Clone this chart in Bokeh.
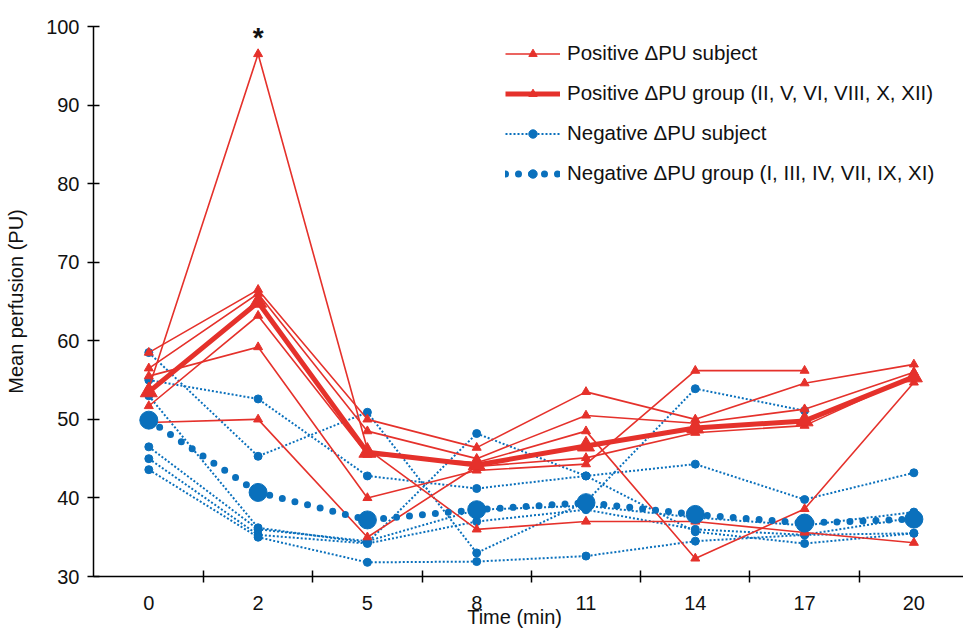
from bokeh.plotting import figure
from bokeh.models import Range1d, FixedTicker, Legend, LegendItem, Label
from bokeh.embed import file_html
from bokeh.resources import INLINE

nan = float("nan")

# Time points (min) shown as evenly spaced categories
times = ["0", "2", "5", "8", "11", "14", "17", "20"]

# Positive ΔPU subjects (Mean perfusion, PU)
pos_s1 = [58.5, 66.5, 50.0, 46.4, 53.5, 50.0, 54.6, 57.0]
pos_s2 = [56.5, 66.0, 48.5, 45.0, 50.5, 49.5, 51.3, 56.0]
pos_s3 = [55.5, 59.2, 40.0, 43.5, 44.3, 56.2, 56.2, nan]
pos_s4 = [54.0, 96.5, 46.2, 36.0, 37.0, 37.0, 35.6, 34.3]
pos_s5 = [51.7, 63.2, 45.5, 44.5, 48.5, 32.3, 38.6, 54.7]
pos_s6 = [49.6, 50.0, 35.0, 44.0, 45.1, 48.3, 49.2, 55.5]
pos_group = [53.5, 64.9, 45.8, 44.2, 46.6, 48.9, 49.8, 55.4]

# Negative ΔPU subjects
neg_s1 = [58.5, 45.3, 50.9, 33.0, 39.5, 53.9, 51.1, nan]
neg_s2 = [55.0, 52.6, 42.8, 41.2, 42.8, 44.3, 39.8, 43.2]
neg_s3 = [53.0, 36.2, 34.3, 48.2, 42.8, 35.7, 34.2, 35.5]
neg_s4 = [46.5, 36.0, 34.5, 38.5, 39.0, 37.5, 36.5, 38.2]
neg_s5 = [45.0, 35.3, 34.2, 37.0, 38.5, 36.0, 35.3, 37.5]
neg_s6 = [43.6, 35.0, 31.8, 31.9, 32.6, 34.5, 35.3, 35.5]
neg_group = [49.9, 40.7, 37.2, 38.5, 39.4, 37.9, 36.8, 37.3]

pos_subjects = [pos_s1, pos_s2, pos_s3, pos_s4, pos_s5, pos_s6]
neg_subjects = [neg_s1, neg_s2, neg_s3, neg_s4, neg_s5, neg_s6]

label_pos_s = "Positive \u0394PU subject"
label_pos_g = "Positive \u0394PU group (II, V, VI, VIII, X, XII)"
label_neg_s = "Negative \u0394PU subject"
label_neg_g = "Negative \u0394PU group (I, III, IV, VII, IX, XI)"
x_title = "Time (min)"
y_title = "Mean perfusion (PU)"

RED = "#E5312B"
BLUE = "#0A70BC"
FONT = "Liberation Sans"
TXT = "#111111"

x = list(range(len(times)))

p = figure(width=963, height=630, output_backend="svg", toolbar_location=None,
           x_range=Range1d(-0.506, 7.454), y_range=Range1d(30, 100),
           min_border_left=93, min_border_right=0, min_border_top=26,
           min_border_bottom=53)
p.outline_line_color = None
p.grid.visible = False
p.background_fill_color = "white"

# negative subjects
neg_r = []
for s in neg_subjects:
    l = p.line(x, s, color=BLUE, line_width=2, line_dash="2 2")
    c = p.scatter(x, s, marker="circle", size=8, color=BLUE)
    neg_r.append((l, c))

# positive subjects
pos_r = []
for s in pos_subjects:
    l = p.line(x, s, color=RED, line_width=1.6)
    c = p.scatter(x, s, marker="triangle", size=9, color=RED)
    pos_r.append((l, c))

# negative group
ng_l = p.line(x, neg_group, color=BLUE, line_width=7, line_dash="0 13", line_cap="round")
ng_c = p.scatter(x, neg_group, marker="circle", size=18, color=BLUE)

# positive group
pg_l = p.line(x, pos_group, color=RED, line_width=5)
pg_c = p.scatter(x, pos_group, marker="triangle", size=17, color=RED)

# axes
xa = p.xaxis[0]
xa.ticker = FixedTicker(ticks=x, minor_ticks=[i + 0.5 for i in x[:-1]])
xa.major_label_overrides = {i: t for i, t in enumerate(times)}
xa.major_tick_in = 0
xa.major_tick_out = 0
xa.minor_tick_in = 6
xa.minor_tick_out = 6
xa.minor_tick_line_color = "black"
xa.minor_tick_line_width = 1.5
xa.axis_line_width = 1.5
xa.axis_line_color = "black"
xa.major_label_standoff = 13
xa.major_label_text_font = FONT
xa.major_label_text_font_size = "20px"
xa.major_label_text_color = TXT
# non-breaking spaces shift the centred title slightly left, as in the source
xa.axis_label = x_title + "\u00a0" * 5
xa.axis_label_text_font = FONT
xa.axis_label_text_font_size = "20px"
xa.axis_label_text_font_style = "normal"
xa.axis_label_text_color = TXT
xa.axis_label_standoff = -7

ya = p.yaxis[0]
ya.ticker = FixedTicker(ticks=[30, 40, 50, 60, 70, 80, 90, 100])
ya.minor_tick_line_color = None
ya.major_tick_in = 6
ya.major_tick_out = 6
ya.major_tick_line_width = 1.5
ya.major_tick_line_color = "black"
ya.axis_line_width = 1.5
ya.axis_line_color = "black"
ya.major_label_standoff = 8
ya.major_label_text_font = FONT
ya.major_label_text_font_size = "20px"
ya.major_label_text_color = TXT
ya.axis_label = y_title
ya.axis_label_text_font = FONT
ya.axis_label_text_font_size = "20px"
ya.axis_label_text_font_style = "normal"
ya.axis_label_text_color = TXT
ya.axis_label_standoff = 16

p.add_layout(Label(x=1, y=98.6, text="*", text_align="center",
                   text_baseline="alphabetic", text_font=FONT, text_font_size="28px",
                   text_font_style="bold", text_color=TXT))

legend = Legend(items=[
    LegendItem(label=label_pos_s, renderers=list(pos_r[0])),
    LegendItem(label=label_pos_g, renderers=[pg_l, pg_c]),
    LegendItem(label=label_neg_s, renderers=list(neg_r[0])),
    LegendItem(label=label_neg_g, renderers=[ng_l, ng_c]),
], location=(412, 391))
legend.border_line_color = None
legend.background_fill_alpha = 0
legend.padding = 0
legend.margin = 0
legend.spacing = 16
legend.glyph_width = 55
legend.glyph_height = 21
legend.label_height = 21
legend.label_standoff = 7
legend.label_text_font = FONT
legend.label_text_font_size = "20.5px"
legend.label_text_color = TXT
legend.label_text_baseline = "middle"
p.add_layout(legend, "center")

open("out.html", "w").write(file_html(p, INLINE))
